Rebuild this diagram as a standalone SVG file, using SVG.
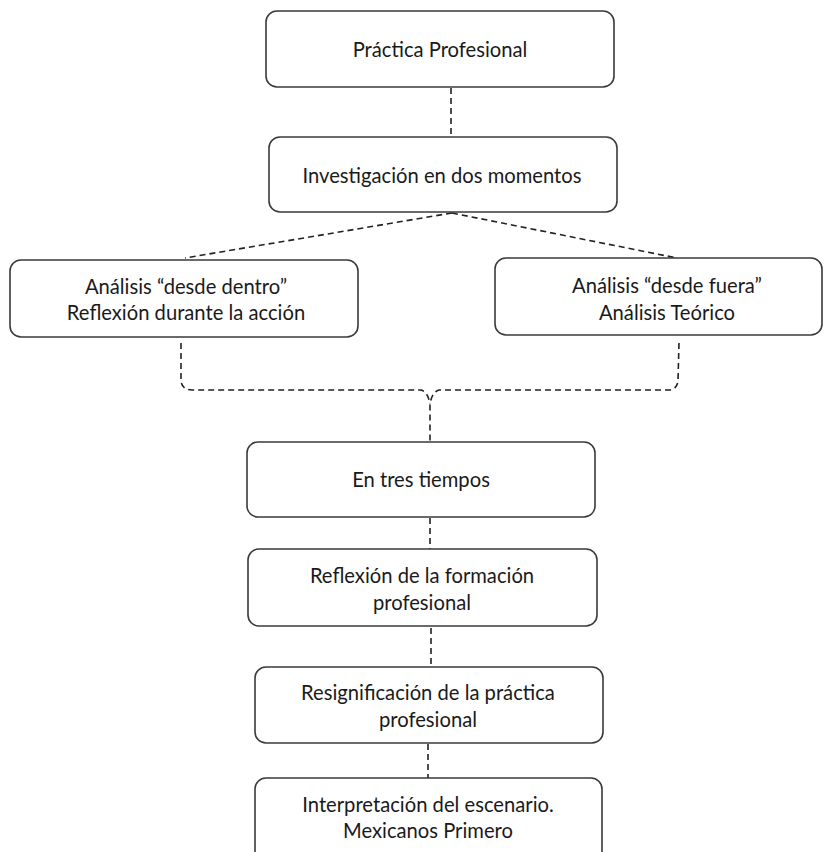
<svg xmlns="http://www.w3.org/2000/svg" width="833" height="852" viewBox="0 0 833 852">
<style>
.box{fill:#fff;stroke:#3a3a3a;stroke-width:1.6}
.t{font-family:Lato,"Liberation Sans",sans-serif;font-size:20.2px;fill:#1a1a1a;text-anchor:middle}
.c{fill:none;stroke:#222;stroke-width:1.6;stroke-dasharray:6 4}
</style>
<rect width="833" height="852" fill="#fff"/>
<g id="connectors">
<path class="c" d="M451,88 L451,137"/>
<path class="c" d="M452,213 L185,258"/>
<path class="c" d="M452,213 L677,258"/>
<path class="c" d="M181,343 L181,381 Q182,390 192,390 L421,390 Q428,392 430,404"/>
<path class="c" d="M679,343 L678,381 Q677,390 668,390 L439,390 Q432,392 430,404 L430,442"/>
<path class="c" d="M430,518 L430,549"/>
<path class="c" d="M431,628 L431,664"/>
<path class="c" d="M428,744 L428,778"/>
</g>
<g id="n1"><rect class="box" x="266" y="11" width="348" height="76" rx="11"/><text class="t" x="440" y="57">Práctica Profesional</text></g>
<g id="n2"><rect class="box" x="269" y="137" width="348" height="75" rx="11"/><text class="t" x="442" y="183">Investigación en dos momentos</text></g>
<g id="n3"><rect class="box" x="10" y="260" width="348" height="77" rx="11"/><text class="t" x="186" y="294">Análisis “desde dentro”</text><text class="t" x="186" y="320">Reflexión durante la acción</text></g>
<g id="n4"><rect class="box" x="495" y="258" width="327" height="77" rx="11"/><text class="t" x="667" y="293">Análisis “desde fuera”</text><text class="t" x="667" y="320">Análisis Teórico</text></g>
<g id="n5"><rect class="box" x="247" y="442" width="348" height="75" rx="11"/><text class="t" x="421" y="487">En tres tiempos</text></g>
<g id="n6"><rect class="box" x="248" y="549" width="349" height="77" rx="11"/><text class="t" x="422" y="583">Reflexión de la formación</text><text class="t" x="422" y="610">profesional</text></g>
<g id="n7"><rect class="box" x="255" y="667" width="348" height="76" rx="11"/><text class="t" x="428" y="700">Resignificación de la práctica</text><text class="t" x="428" y="727">profesional</text></g>
<g id="n8"><rect class="box" x="255" y="778" width="347" height="85" rx="11"/><text class="t" x="428" y="812">Interpretación del escenario.</text><text class="t" x="428" y="838">Mexicanos Primero</text></g>
</svg>
